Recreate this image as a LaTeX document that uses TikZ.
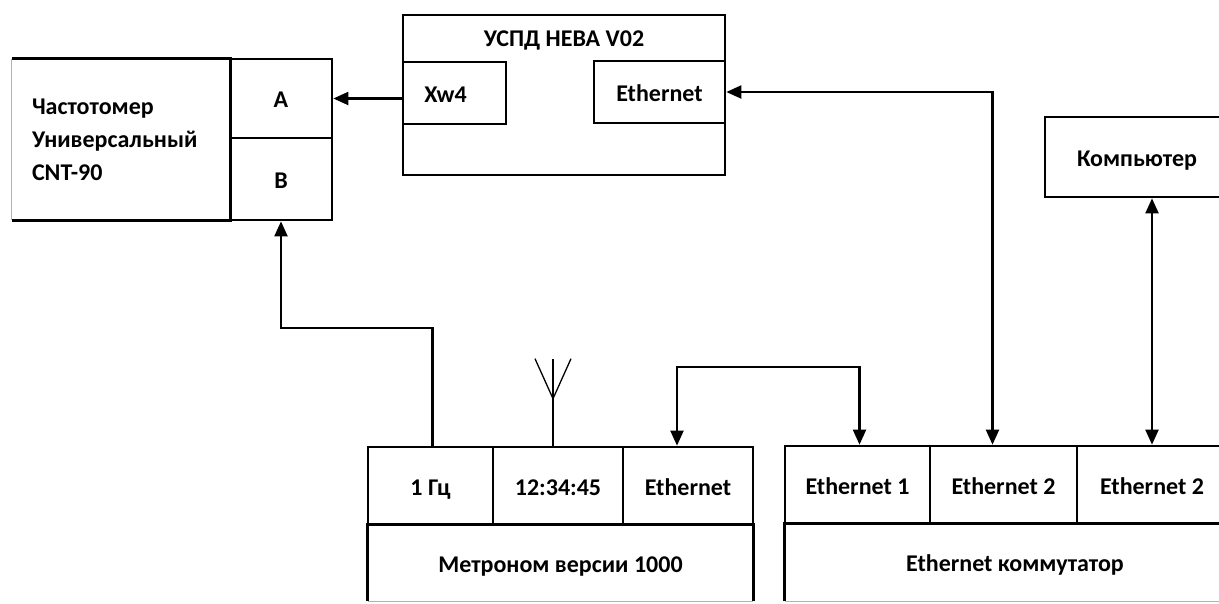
\documentclass[tikz,border=0pt]{standalone}
\usepackage{fontspec}
\setmainfont{Carlito}
\usetikzlibrary{arrows.meta,calc}
\begin{document}
\begin{tikzpicture}[x=1pt,y=-1pt,
  txt/.style={font=\fontsize{24}{33}\selectfont\bfseries},
  fixh/.style={text height=18pt, text depth=0pt},
  box/.style={draw, line width=2.7pt, rectangle, inner sep=0pt, txt, fixh},
  nobox/.style={rectangle, inner sep=0pt, txt},
  edge/.style={line width=2.7pt},
  conn/.style={line width=2.1pt},
  arr/.style={conn, -{Triangle[length=15pt,width=13pt]}},
  biarr/.style={conn, {Triangle[length=15pt,width=13pt]}-{Triangle[length=15pt,width=13pt]}},
  thinl/.style={line width=1.3pt},
  faint/.style={line width=1pt, gray!60}]
\useasboundingbox (0,0) rectangle (1219,603);
% Frequency counter
\node[nobox, minimum width=218pt, minimum height=161pt, text width=178pt, align=left] (freq) at (121,139.5) {Частотомер\\Универсальный\\CNT-90};
\draw[edge] (freq.north west) -- (freq.north east) -- (freq.south east) -- (freq.south west);
\draw[faint] (freq.south west) -- (freq.north west);
\node[box, minimum width=102pt, minimum height=79pt] (portA) at (281,98.5) {A};
\node[box, minimum width=102pt, minimum height=82pt] (portB) at (281,179) {B};
% USPD
\node[box, minimum width=322pt, minimum height=160pt] (uspd) at (564,95) {};
\node[nobox, fixh] (uspdt) at (564,37) {УСПД НЕВА V02};
\node[box, minimum width=103pt, minimum height=62pt] (xw4) at (454.5,93) {Xw4\hspace*{18pt}};
\node[box, minimum width=131pt, minimum height=62pt] (ueth) at (659.5,92) {Ethernet};
% Computer
\node[box, minimum width=184pt, minimum height=80pt] (comp) at (1137,157) {Компьютер};
% Metronome
\node[box, minimum width=125pt, minimum height=78pt] (hz) at (430.5,486) {1 Гц};
\node[box, minimum width=130pt, minimum height=78pt] (clock) at (558,486) {12:34:45};
\node[box, minimum width=130pt, minimum height=78pt] (meth) at (688,486) {Ethernet};
\node[nobox, fixh, minimum width=385pt, minimum height=76pt] (metro) at (560.5,563) {Метроном версии 1000};
\draw[edge] (metro.south west) -- (metro.north west) -- (metro.north east) -- (metro.south east);
\draw[faint] (metro.south west) -- (metro.south east);
% Switch
\node[box, minimum width=145pt, minimum height=78pt] (sw1) at (857.5,485) {Ethernet 1};
\node[box, minimum width=147pt, minimum height=78pt] (sw2) at (1003.5,485) {Ethernet 2};
\node[box, minimum width=150pt, minimum height=78pt] (sw3) at (1152,485) {Ethernet 2};
\node[nobox, fixh, minimum width=460pt, minimum height=77pt] (switch) at (1015,562.5) {Ethernet коммутатор};
\draw[edge] (switch.south west) -- (switch.north west) -- (switch.north east) -- (switch.south east);
\draw[faint] (switch.south west) -- (switch.south east);
% Connectors
\draw[arr] (portA.east -| xw4.west) -- (portA.east);
\draw[biarr] (ueth.east) -| ([xshift=-11pt]sw2.north);
\draw[biarr] (comp.south -| sw3.north) -- (sw3.north);
\draw[biarr] ([xshift=-11pt]meth.north) -- ++(0,-79) -| ([xshift=2pt]sw1.north);
\draw[arr] ([xshift=2pt]hz.north) -- ++(0,-118) -| (portB.south);
% Antenna
\coordinate (antb) at ($(clock.north)+(-5,-47)$);
\draw[conn] ([xshift=-5pt]clock.north) -- ++(0,-87);
\draw[thinl] (antb) -- ++(-18,-40);
\draw[thinl] (antb) -- ++(18,-40);
\end{tikzpicture}
\end{document}
